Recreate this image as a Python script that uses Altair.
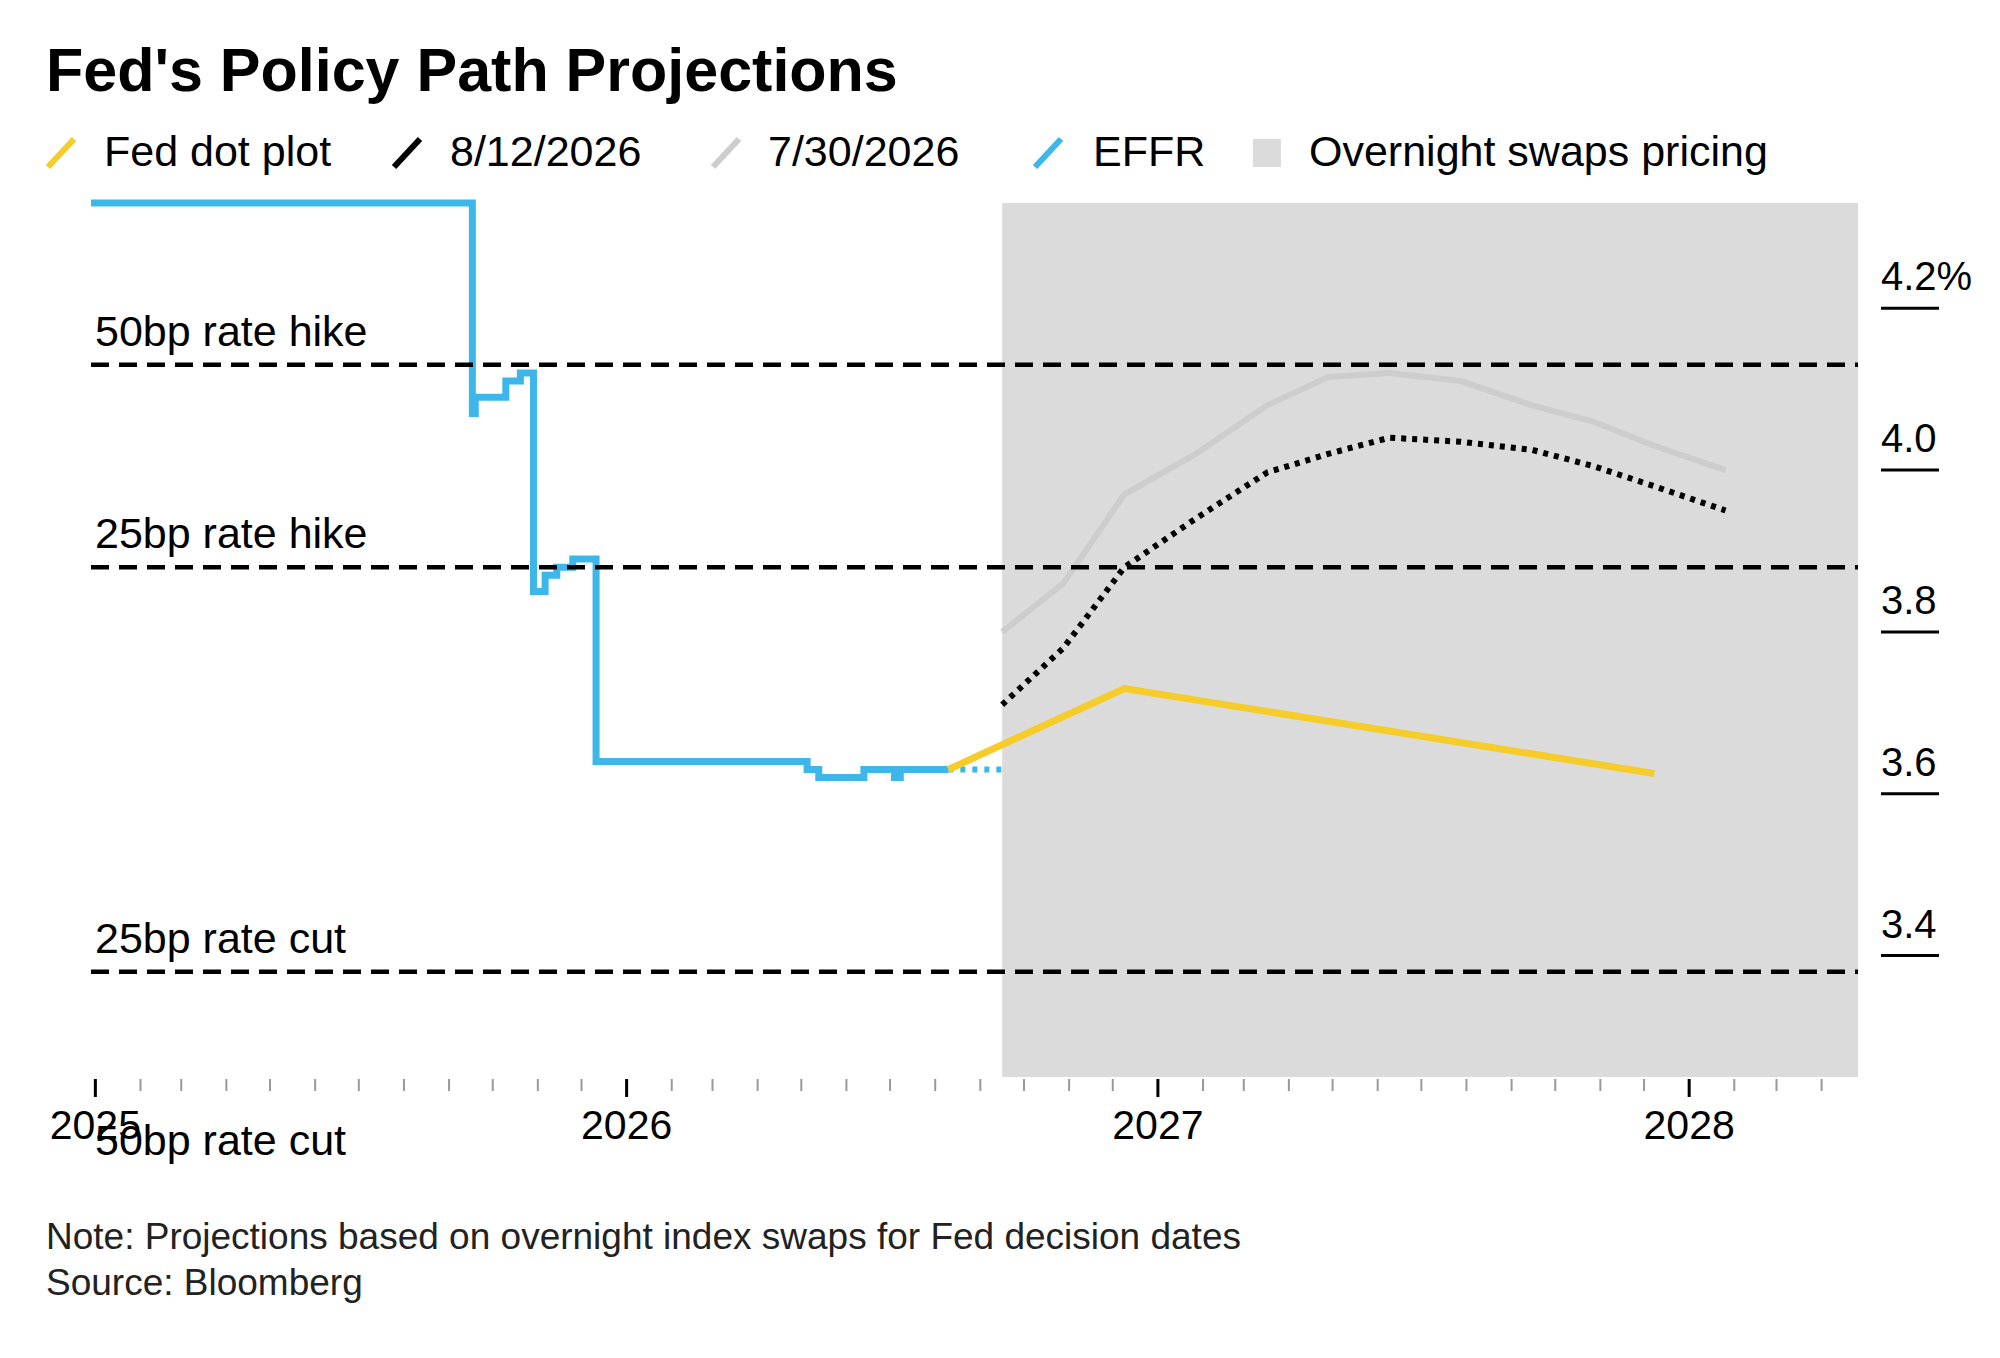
import pandas as pd
import altair as alt

# EFFR (daily step series, simplified to change points)
effr_dates = ["2024-12-29", "2025-09-17", "2025-09-19", "2025-10-01", "2025-10-10", "2025-10-20",
              "2025-10-29", "2025-11-06", "2025-11-14", "2025-11-25", "2025-12-11", "2026-05-05",
              "2026-05-13", "2026-06-13", "2026-07-04", "2026-07-08", "2026-08-10"]
effr_values = [4.33, 4.07, 4.09, 4.09, 4.11, 4.12, 3.85, 3.87, 3.88, 3.89, 3.64, 3.63,
               3.62, 3.63, 3.62, 3.63, 3.63]
effr_proj_dates = ["2026-08-10", "2026-09-16"]
effr_proj_values = [3.63, 3.63]

# Fed dot plot
dot_dates = ["2026-08-10", "2026-12-09", "2027-12-08"]
dot_values = [3.63, 3.73, 3.625]

# Overnight swaps pricing at Fed decision dates
ois_dates = ["2026-09-16", "2026-10-28", "2026-12-09", "2027-01-27", "2027-03-17", "2027-04-28",
             "2027-06-09", "2027-07-28", "2027-09-15", "2027-10-27", "2027-12-08", "2028-01-26"]
ois_0812 = [3.71, 3.78, 3.88, 3.94, 3.997, 4.02, 4.04, 4.035, 4.025, 4.005, 3.98, 3.95]
ois_0730 = [3.80, 3.86, 3.97, 4.02, 4.08, 4.115, 4.12, 4.11, 4.08, 4.06, 4.03, 4.00]

ref_labels = ["50bp rate hike", "25bp rate hike", "25bp rate cut", "50bp rate cut"]
ref_values = [4.13, 3.88, 3.38, 3.13]

y_ticks = [4.2, 4.0, 3.8, 3.6, 3.4]
y_tick_labels = ["4.2%", "4.0", "3.8", "3.6", "3.4"]
year_ticks = ["2025-01-01", "2026-01-01", "2027-01-01", "2028-01-01"]

shade_start, shade_end = "2026-09-16", "2028-04-26"
x_start = "2024-12-29"

W, H = 1767, 874
FONT = "Liberation Sans"
BLUE, YELLOW, GREY_LINE, SHADE = "#3db7ea", "#f5cc2a", "#cdcdcd", "#dbdbdb"

x_scale = alt.Scale(domain=[pd.Timestamp(x_start).isoformat(), pd.Timestamp(shade_end).isoformat()])
y_scale = alt.Scale(domain=[3.25, 4.33], nice=False, zero=False)
X = alt.X("date:T", scale=x_scale, axis=None)
Y = alt.Y("value:Q", scale=y_scale, axis=None)

effr = pd.DataFrame({"date": effr_dates, "value": effr_values})
effr_proj = pd.DataFrame({"date": effr_proj_dates, "value": effr_proj_values})
dots = pd.DataFrame({"date": dot_dates, "value": dot_values})
s0812 = pd.DataFrame({"date": ois_dates, "value": ois_0812})
s0730 = pd.DataFrame({"date": ois_dates, "value": ois_0730})
refs = pd.DataFrame({"label": ref_labels, "value": ref_values})
yt = pd.DataFrame({"value": y_ticks, "label": y_tick_labels})
months = pd.DataFrame({"date": pd.date_range("2025-01-01", "2028-04-01", freq="MS")})
years = pd.DataFrame({"date": pd.to_datetime(year_ticks), "label": [d[:4] for d in year_ticks]})

shade = alt.Chart(pd.DataFrame({"start": [shade_start], "end": [shade_end]})).mark_rect(color=SHADE).encode(
    x=alt.X("start:T", scale=x_scale, axis=None), x2="end:T", y=alt.value(0), y2=alt.value(H)
)

grey = alt.Chart(s0730).mark_line(color=GREY_LINE, strokeWidth=6).encode(x=X, y=Y)
black = alt.Chart(s0812).mark_line(color="black", strokeWidth=6, strokeDash=[5, 6]).encode(x=X, y=Y)
blue = alt.Chart(effr).mark_line(color=BLUE, strokeWidth=7, interpolate="step-after").encode(x=X, y=Y)
blue_proj = alt.Chart(effr_proj).mark_line(color=BLUE, strokeWidth=6, strokeDash=[5, 7]).encode(x=X, y=Y)
yellow = alt.Chart(dots).mark_line(color=YELLOW, strokeWidth=7).encode(x=X, y=Y)

ref_base = alt.Chart(refs).transform_filter(alt.datum.value > 3.25)
ref_lines = ref_base.mark_rule(color="black", strokeWidth=4.5, strokeDash=[18, 10]).encode(
    y=Y, x=alt.value(0), x2=alt.value(W)
)
ref_text = alt.Chart(refs).mark_text(
    align="left", baseline="bottom", dx=4, dy=-10, font=FONT, fontSize=43, color="black"
).encode(y=Y, x=alt.value(0), text="label:N")

ytick_lines = alt.Chart(yt).mark_rule(color="black", strokeWidth=3).encode(
    y=Y, x=alt.value(W + 23), x2=alt.value(W + 81)
)
ytick_text = alt.Chart(yt).mark_text(
    align="left", baseline="bottom", dx=0, dy=-10, font=FONT, fontSize=40, color="black"
).encode(y=Y, x=alt.value(W + 23), text="label:N")

month_ticks = alt.Chart(months).mark_rule(color="#999999", strokeWidth=2).encode(
    x=alt.X("date:T", scale=x_scale, axis=None), y=alt.value(H + 2), y2=alt.value(H + 14)
)
year_tick_marks = alt.Chart(years).mark_rule(color="black", strokeWidth=3).encode(
    x=alt.X("date:T", scale=x_scale, axis=None), y=alt.value(H + 2), y2=alt.value(H + 20)
)
year_text = alt.Chart(years).mark_text(
    baseline="middle", font=FONT, fontSize=41, color="black"
).encode(x=alt.X("date:T", scale=x_scale, axis=None), y=alt.value(H + 50), text="label:N")

# title, legend and notes
title_df = pd.DataFrame({"t": ["Fed's Policy Path Projections"]})
title = alt.Chart(title_df).mark_text(
    align="left", baseline="top", font=FONT, fontSize=61, fontWeight="bold", color="black"
).encode(x=alt.value(-45), y=alt.value(-160), text="t:N")

leg_names = ["Fed dot plot", "8/12/2026", "7/30/2026", "EFFR", "Overnight swaps pricing"]
leg_colors = [YELLOW, "black", GREY_LINE, BLUE, SHADE]
leg_sym_x = [-43, 303, 622, 944, 1162]
leg_text_x = [13, 359, 677, 1002, 1218]
legend_layers = []
for i, (name, col) in enumerate(zip(leg_names, leg_colors)):
    d = pd.DataFrame({"t": [name]})
    if i < 4:
        sym = alt.Chart(d).mark_rule(color=col, strokeWidth=6).encode(
            x=alt.value(leg_sym_x[i]), x2=alt.value(leg_sym_x[i] + 26),
            y=alt.value(-36), y2=alt.value(-64)
        )
    else:
        sym = alt.Chart(d).mark_rect(color=col).encode(
            x=alt.value(leg_sym_x[i]), x2=alt.value(leg_sym_x[i] + 28),
            y=alt.value(-64), y2=alt.value(-36)
        )
    txt = alt.Chart(d).mark_text(
        align="left", baseline="middle", font=FONT, fontSize=43, color="black"
    ).encode(x=alt.value(leg_text_x[i]), y=alt.value(-50), text="t:N")
    legend_layers += [sym, txt]

notes_df = pd.DataFrame({
    "t": ["Note: Projections based on overnight index swaps for Fed decision dates", "Source: Bloomberg"],
    "y": [H + 161, H + 207],
})
notes = alt.Chart(notes_df).mark_text(
    align="left", baseline="middle", font=FONT, fontSize=37, color="#222222"
).encode(x=alt.value(-45), y=alt.Y("y:Q", scale=None, axis=None), text="t:N")

chart = alt.layer(
    shade, grey, black, blue, blue_proj, yellow, ref_lines, ref_text,
    ytick_lines, ytick_text, month_ticks, year_tick_marks, year_text,
    title, *legend_layers, notes
).resolve_scale(y="independent").properties(
    width=W, height=H, padding={"left": 37, "top": 34, "right": 10, "bottom": 10}
).configure(background="white").configure_view(stroke=None)

chart.save("out.html", embed_options={"renderer": "svg", "actions": False})
